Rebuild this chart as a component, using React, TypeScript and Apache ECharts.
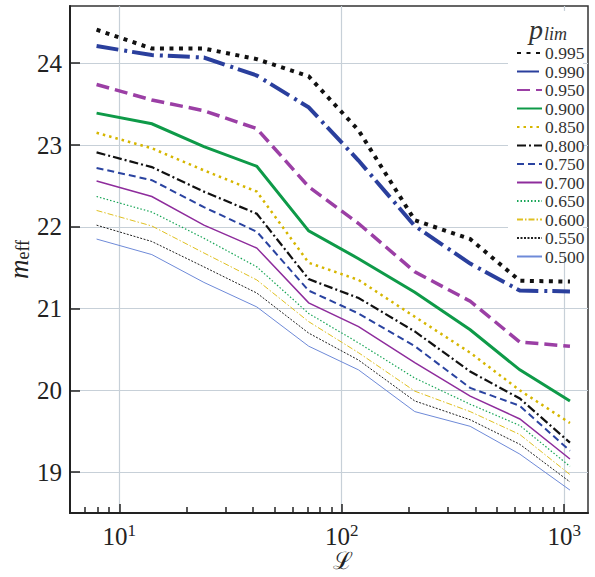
import React, { useEffect, useRef } from "react";
import * as echarts from "echarts";

const xValues = [7.9, 14, 24, 41.5, 71, 119, 213, 378, 632, 1062];

const p995 = [24.41, 24.18, 24.18, 24.05, 23.84, 23.18, 22.08, 21.85, 21.34, 21.33];
const p990 = [24.21, 24.1, 24.07, 23.85, 23.46, 22.81, 22.01, 21.55, 21.22, 21.21];
const p950 = [23.74, 23.55, 23.42, 23.2, 22.49, 22.04, 21.45, 21.09, 20.59, 20.54];
const p900 = [23.39, 23.26, 22.98, 22.74, 21.95, 21.61, 21.2, 20.74, 20.25, 19.87];
const p850 = [23.15, 22.96, 22.69, 22.43, 21.56, 21.35, 20.9, 20.46, 20.0, 19.6];
const p800 = [22.91, 22.73, 22.43, 22.16, 21.36, 21.13, 20.72, 20.23, 19.9, 19.36];
const p750 = [22.72, 22.57, 22.24, 21.94, 21.22, 20.94, 20.54, 20.03, 19.81, 19.26];
const p700 = [22.56, 22.37, 22.02, 21.74, 21.07, 20.78, 20.34, 19.93, 19.65, 19.16];
const p650 = [22.37, 22.18, 21.86, 21.51, 20.94, 20.58, 20.15, 19.83, 19.57, 19.07];
const p600 = [22.2, 22.01, 21.68, 21.35, 20.84, 20.46, 19.99, 19.74, 19.46, 18.97];
const p550 = [22.02, 21.82, 21.51, 21.19, 20.7, 20.37, 19.87, 19.64, 19.34, 18.88];
const p500 = [21.85, 21.66, 21.32, 21.02, 20.54, 20.25, 19.74, 19.56, 19.22, 18.78];

const seriesNames = ["0.995", "0.990", "0.950", "0.900", "0.850", "0.800", "0.750", "0.700", "0.650", "0.600", "0.550", "0.500"];
const seriesValues = [p995, p990, p950, p900, p850, p800, p750, p700, p650, p600, p550, p500];

const yTicks = [19, 20, 21, 22, 23, 24];
const xMajorTicks = [10, 100, 1000];
const xMinorTicks = [7, 8, 9, 20, 30, 40, 50, 60, 70, 80, 90, 200, 300, 400, 500, 600, 700, 800, 900];

const styles: any[] = [
  { color: "#111111", width: 4, type: [4, 5.5] },
  { color: "#2a3f9d", width: 4, type: [22, 6, 3, 5] },
  { color: "#9b3fa5", width: 3.5, type: [13, 6] },
  { color: "#0e9a48", width: 3, type: "solid" },
  { color: "#d6b600", width: 2.5, type: [2.5, 4] },
  { color: "#111111", width: 2.2, type: [9, 3, 2, 3] },
  { color: "#2a43a0", width: 2, type: [7, 4] },
  { color: "#8e2c9c", width: 1.5, type: "solid" },
  { color: "#17a556", width: 1.2, type: [1.5, 2] },
  { color: "#e0c020", width: 1, type: [6, 2, 1.5, 2] },
  { color: "#222222", width: 1, type: [2, 1.5] },
  { color: "#6e8ad8", width: 1, type: "solid" },
];

const FONT = "Liberation Serif";

export default function App() {
  const ref = useRef<HTMLDivElement>(null);
  useEffect(() => {
    if (!ref.current) return;
    const chart = echarts.init(ref.current, undefined, { renderer: "svg" });
    const option: any = {
      animation: false,
      backgroundColor: "#ffffff",
      title: {
        text: "{p|p}{s|lim}",
        left: 524,
        top: 10,
        z: 6,
        textStyle: {
          fontWeight: "normal",
          rich: {
            p: { fontFamily: FONT, fontStyle: "italic", fontWeight: "normal", fontSize: 28, color: "#333" },
            s: { fontFamily: FONT, fontStyle: "italic", fontWeight: "normal", fontSize: 18, color: "#333", verticalAlign: "bottom", padding: [6, 0, 0, 1] },
          },
        },
      },
      graphic: [
        {
          type: "rect",
          z: 3,
          silent: true,
          shape: { x: 508, y: 11, width: 75, height: 243 },
          style: { fill: "#ffffff" },
        },
      ],
      legend: {
        orient: "vertical",
        left: 511,
        top: 39,
        z: 5,
        itemWidth: 25,
        itemHeight: 12,
        itemGap: 0.5,
        data: seriesNames,
        itemStyle: { opacity: 0 },
        textStyle: { fontFamily: FONT, fontSize: 17.5, color: "#333", lineHeight: 17.2, padding: [0, 0, 0, -2] },
      },
      grid: {
        left: 70,
        right: 7,
        top: 6,
        bottom: 64,
        show: true,
        borderColor: "#333",
        borderWidth: 1.5,
        outerBoundsMode: "none",
      },
      xAxis: [
        {
          type: "log",
          logBase: 10,
          min: 6,
          max: 1280,
          axisLine: { lineStyle: { color: "#222", width: 2 } },
          axisTick: { inside: true, length: 9, customValues: xMajorTicks, lineStyle: { color: "#222", width: 1.5 } },
          axisLabel: {
            customValues: xMajorTicks,
            margin: 9,
            formatter: (v: number) => `{b|10}{e|${Math.round(Math.log10(v))}}`,
            rich: {
              b: { fontFamily: FONT, fontSize: 25, color: "#222", lineHeight: 28 },
              e: { fontFamily: FONT, fontSize: 17, color: "#222", verticalAlign: "top", lineHeight: 17 },
            },
          },
          splitLine: { show: true, lineStyle: { color: "#c7d0d8", width: 1.2 } },
          name: "ℒ",
          nameLocation: "middle",
          nameGap: 36,
          nameMoveOverlap: false,
          nameTextStyle: { fontFamily: FONT, fontSize: 24, color: "#222", padding: [0, 0, 0, 28] },
        },
        {
          type: "log",
          logBase: 10,
          min: 6,
          max: 1280,
          position: "bottom",
          axisLine: { show: false },
          axisTick: { inside: true, length: 6, customValues: xMinorTicks, lineStyle: { color: "#222", width: 1.5 } },
          axisLabel: { show: false },
          splitLine: { show: false },
        },
      ],
      yAxis: {
        type: "value",
        min: 18.5,
        max: 24.7,
        axisLine: { show: true, lineStyle: { color: "#222", width: 2 } },
        axisTick: { show: true, inside: true, length: 10, customValues: yTicks, lineStyle: { color: "#222", width: 1.5 } },
        axisLabel: { customValues: yTicks, margin: 8, fontFamily: FONT, fontSize: 25, color: "#222" },
        splitLine: { show: true, lineStyle: { color: "#c7d0d8", width: 1.2 } },
        name: "{m|m}{s|eff}",
        nameLocation: "middle",
        nameGap: 38,
        nameMoveOverlap: false,
        nameTextStyle: {
          rich: {
            m: { fontFamily: FONT, fontStyle: "italic", fontSize: 27, color: "#222" },
            s: { fontFamily: FONT, fontSize: 18, color: "#222", verticalAlign: "bottom", padding: [6, 0, 0, 0] },
          },
        },
      },
      series: seriesNames.map((name, i) => ({
        name,
        type: "line",
        xAxisIndex: 0,
        symbol: "none",
        showSymbol: false,
        lineStyle: { ...styles[i], cap: "butt", join: "miter" },
        itemStyle: { color: styles[i].color },
        data: xValues.map((x, j) => [x, seriesValues[i][j]]),
        z: 2,
      })),
    };
    chart.setOption(option);
    return () => chart.dispose();
  }, []);
  return <div ref={ref} style={{ position: "fixed", left: 0, top: 0, width: 595, height: 577 }} />;
}
